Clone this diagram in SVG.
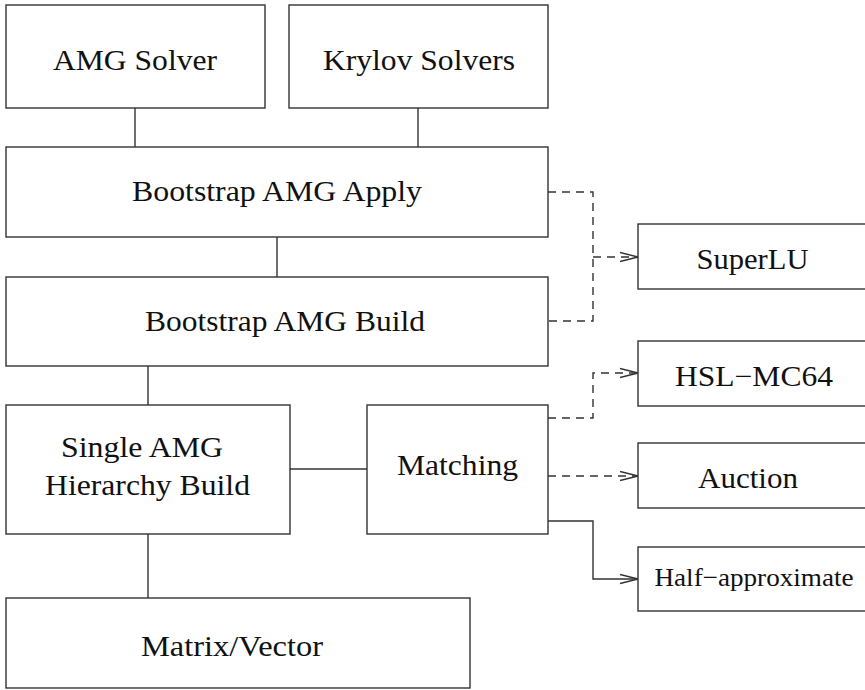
<svg xmlns="http://www.w3.org/2000/svg" width="865" height="690" viewBox="0 0 865 690">
<style>
  .box { fill: #ffffff; stroke: #333333; stroke-width: 1.4; }
  .lbl { font-size: 29px; fill: #111111; text-anchor: middle; }
  .sm { font-size: 26px; }
  .ln { fill: none; stroke: #333333; stroke-width: 1.4; }
  .dash { stroke-dasharray: 8 6; }
</style>
<defs>
  <marker id="arr" markerUnits="userSpaceOnUse" markerWidth="22" markerHeight="12" refX="18" refY="6" orient="auto" viewBox="0 0 22 12">
    <path d="M0,1.5 L18,6 L0,10.5" fill="none" stroke="#333333" stroke-width="1.4" stroke-dasharray="none"/>
  </marker>
</defs>
<rect width="865" height="690" fill="#ffffff"/>

<g id="connectors">
  <path class="ln" d="M135,108 V147"/>
  <path class="ln" d="M418,108 V147"/>
  <path class="ln" d="M277,237 V277"/>
  <path class="ln" d="M148,366 V405"/>
  <path class="ln" d="M148,534 V598"/>
  <path class="ln" d="M290,469 H367"/>
  <path class="ln dash" d="M548,192 H593 V321 H548"/>
  <path class="ln dash" d="M593,257 H638" marker-end="url(#arr)"/>
  <path class="ln dash" d="M548,418 H593 V373 H638" marker-end="url(#arr)"/>
  <path class="ln dash" d="M548,476 H638" marker-end="url(#arr)"/>
  <path class="ln" d="M548,521 H593 V579 H638" marker-end="url(#arr)"/>
</g>

<g font-family="Liberation Serif, Times New Roman, serif">
<g id="amg-solver">
  <rect class="box" x="6" y="5" width="259" height="103"/>
  <text class="lbl" x="135" y="70" textLength="164" lengthAdjust="spacingAndGlyphs">AMG Solver</text>
</g>
<g id="krylov-solvers">
  <rect class="box" x="289" y="5" width="259" height="103"/>
  <text class="lbl" x="419" y="70" textLength="192" lengthAdjust="spacingAndGlyphs">Krylov Solvers</text>
</g>
<g id="bootstrap-apply">
  <rect class="box" x="6" y="147" width="542" height="90"/>
  <text class="lbl" x="277" y="200.5" textLength="290" lengthAdjust="spacingAndGlyphs">Bootstrap AMG Apply</text>
</g>
<g id="bootstrap-build">
  <rect class="box" x="6" y="277" width="542" height="89"/>
  <text class="lbl" x="285" y="331" textLength="280" lengthAdjust="spacingAndGlyphs">Bootstrap AMG Build</text>
</g>
<g id="single-amg">
  <rect class="box" x="6" y="405" width="284" height="129"/>
  <text class="lbl" x="142" y="456.5" textLength="162" lengthAdjust="spacingAndGlyphs">Single AMG</text>
  <text class="lbl" x="147.5" y="495" textLength="205" lengthAdjust="spacingAndGlyphs">Hierarchy Build</text>
</g>
<g id="matching">
  <rect class="box" x="367" y="405" width="181" height="129"/>
  <text class="lbl" x="457.5" y="475" textLength="121" lengthAdjust="spacingAndGlyphs">Matching</text>
</g>
<g id="matrix-vector">
  <rect class="box" x="6" y="598" width="464" height="90"/>
  <text class="lbl" x="232" y="656" textLength="182" lengthAdjust="spacingAndGlyphs">Matrix/Vector</text>
</g>
<g id="superlu">
  <rect class="box" x="638" y="224" width="232" height="65"/>
  <text class="lbl" x="752.5" y="269" textLength="112" lengthAdjust="spacingAndGlyphs">SuperLU</text>
</g>
<g id="hsl-mc64">
  <rect class="box" x="638" y="341" width="232" height="65"/>
  <text class="lbl" x="754" y="385.5" textLength="158" lengthAdjust="spacingAndGlyphs">HSL−MC64</text>
</g>
<g id="auction">
  <rect class="box" x="638" y="443" width="232" height="65"/>
  <text class="lbl" x="748" y="488" textLength="100" lengthAdjust="spacingAndGlyphs">Auction</text>
</g>
<g id="half-approximate">
  <rect class="box" x="638" y="547" width="232" height="64"/>
  <text class="lbl sm" x="754" y="585.5" textLength="199" lengthAdjust="spacingAndGlyphs">Half−approximate</text>
</g>
</g>
</svg>
